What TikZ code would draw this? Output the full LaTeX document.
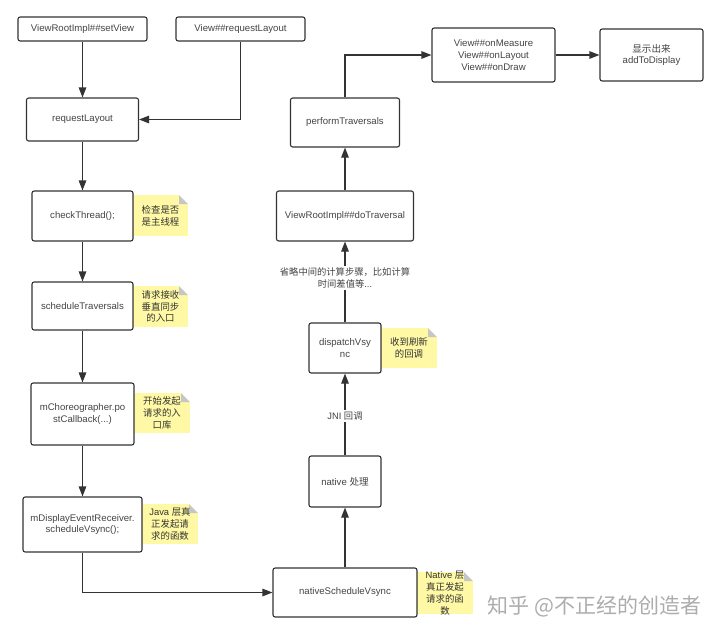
\documentclass[tikz,border=0pt]{standalone}
\usepackage{fontspec}
\setmainfont{Liberation Sans}
\newfontfamily\cjk{Noto Sans CJK SC}
\usetikzlibrary{arrows.meta}
\definecolor{boxtext}{HTML}{444444}
\definecolor{notefill}{HTML}{FFF9A6}
\definecolor{linecol}{HTML}{333333}
\begin{document}
\begin{tikzpicture}[x=1pt,y=-1pt,
  box/.style={draw=linecol, line width=1.1pt, rounded corners=2.2pt, fill=white,
    inner sep=0pt, align=center, text=boxtext,
    font=\fontsize{9.6}{11.7}\selectfont},
  note/.style={fill=notefill, inner sep=0pt, draw=none,
    path picture={
      \fill[white] ([xshift=-9pt]path picture bounding box.north east) -- (path picture bounding box.north east) -- ([yshift=-9pt]path picture bounding box.north east) -- cycle;
      \fill[gray!45] ([xshift=-9pt]path picture bounding box.north east) -- ([xshift=-9pt,yshift=-9pt]path picture bounding box.north east) -- ([yshift=-9pt]path picture bounding box.north east) -- cycle;}},
  notetext/.style={inner sep=0pt, align=center, text=black!80,
    font=\fontsize{9.4}{11.8}\selectfont},
  arr/.style={draw=linecol, line width=1.1pt, -{Triangle[length=10pt,width=7.5pt]}},
  lbl/.style={fill=white, inner sep=1.5pt, align=center, text=boxtext,
    font=\fontsize{9.3}{12.5}\selectfont}
]
\useasboundingbox (0,0) rectangle (720,635);
\fill[white] (0,0) rectangle (720,635);

% notes
\node[note, minimum width=55pt, minimum height=41pt] (n1) at (160.5,215.5) {};
\node[notetext] (n1t) at (n1) {{\cjk 检查是否}\\{\cjk 是主线程}};
\node[note, minimum width=55pt, minimum height=41pt] (n2) at (160.5,306.5) {};
\node[notetext] (n2t) at (n2) {{\cjk 请求接收}\\{\cjk 垂直同步}\\{\cjk 的入口}};
\node[note, minimum width=56pt, minimum height=40pt] (n3) at (162,413) {};
\node[notetext] (n3t) at (n3) {{\cjk 开始发起}\\{\cjk 请求的入}\\{\cjk 口库}};
\node[note, minimum width=56pt, minimum height=40pt] (n4) at (170,524) {};
\node[notetext] (n4t) at (n4) {Java {\cjk 层真}\\{\cjk 正发起请}\\{\cjk 求的函数}};
\node[note, minimum width=56pt, minimum height=42pt] (n5) at (445,593) {};
\node[notetext] (n5t) at (n5) {Native {\cjk 层}\\{\cjk 真正发起}\\{\cjk 请求的函}\\{\cjk 数}};
\node[note, minimum width=56pt, minimum height=40pt] (n6) at (409,348) {};
\node[notetext] (n6t) at (n6) {{\cjk 收到刷新}\\{\cjk 的回调}};

% boxes
\node[box, minimum width=129pt, minimum height=24pt] (sv) at (82.5,29) {ViewRootImpl\#\#setView};
\node[box, minimum width=129pt, minimum height=24pt] (vrl) at (240.5,29) {View\#\#requestLayout};
\node[box, minimum width=112pt, minimum height=43pt] (rl) at (82.5,119.5) {requestLayout};
\node[box, minimum width=101pt, minimum height=50pt] (ct) at (82.5,216) {checkThread();};
\node[box, minimum width=101pt, minimum height=48pt] (st) at (82.5,306) {scheduleTraversals};
\node[box, minimum width=103pt, minimum height=62pt] (mc) at (82.5,414) {mChoreographer.po\\stCallback(...)};
\node[box, minimum width=119pt, minimum height=55pt] (md) at (82.5,524.5) {mDisplayEventReceiver.\\scheduleVsync();};
\node[box, minimum width=144pt, minimum height=49pt] (nsv) at (345,592.5) {nativeScheduleVsync};
\node[box, minimum width=72pt, minimum height=51pt] (nat) at (345,481.5) {native {\cjk 处理}};
\node[box, minimum width=72pt, minimum height=50pt] (dv) at (345,348) {dispatchVsy\\nc};
\node[box, minimum width=137pt, minimum height=50pt] (dt) at (345,216) {ViewRootImpl\#\#doTraversal};
\node[box, minimum width=109pt, minimum height=49pt] (pt) at (345,122.5) {performTraversals};
\node[box, minimum width=123pt, minimum height=54pt] (vm) at (493.5,55) {View\#\#onMeasure\\View\#\#onLayout\\View\#\#onDraw};
\node[box, minimum width=103pt, minimum height=52pt] (disp) at (651.5,55) {{\cjk 显示出来}\\addToDisplay};

% connectors
\draw[arr] (sv.south) -- (rl.north);
\draw[arr] (vrl.south) -- (vrl.south |- rl.east) -- (rl.east);
\draw[arr] (rl.south) -- (ct.north);
\draw[arr] (ct.south) -- (st.north);
\draw[arr] (st.south) -- (mc.north);
\draw[arr] (mc.south) -- (md.north);
\draw[arr] (md.south) -- (md.south |- nsv.west) -- (nsv.west);
\draw[arr] (nsv.north) -- (nat.south);
\draw[arr] (nat.north) -- node[lbl, pos=0.48] (jni) {JNI {\cjk 回调}} (dv.south);
\draw[arr] (dv.north) -- node[lbl, pos=0.55] (skip) {{\cjk 省略中间的计算步骤，比如计算}\\{\cjk 时间差值等}...} (dt.south);
\draw[arr] (dt.north) -- (pt.south);
\draw[arr] (pt.north) -- (pt.north |- vm.west) -- (vm.west);
\draw[arr] (vm.east) -- (disp.west);

% watermark
\node[text=black!32, inner sep=0pt, font=\fontsize{21}{24}\selectfont] (wm) at (594.5,606) {{\cjk 知乎 @不正经的创造者}};
\end{tikzpicture}
\end{document}
